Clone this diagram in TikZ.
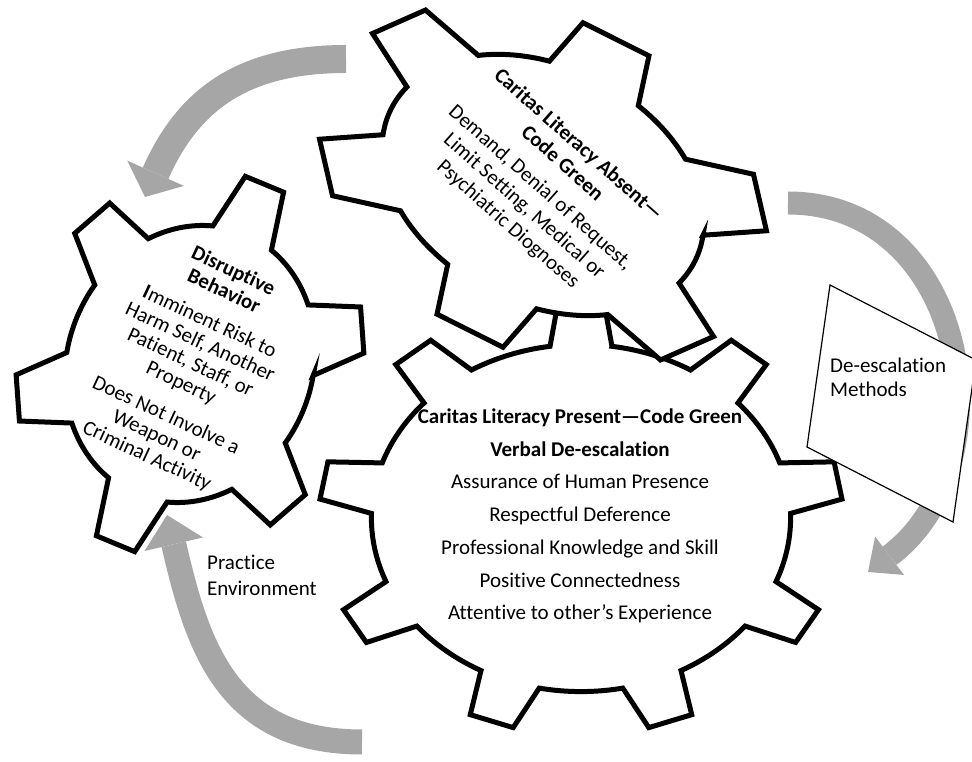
\documentclass[tikz,border=0pt]{standalone}
\usepackage{fontspec}
\setmainfont{Carlito}[Ligatures={TeX,NoCommon}]
\usetikzlibrary{arrows.meta}
\definecolor{arrowgray}{RGB}{166,166,166}

% gear outline in unit coordinates:
% #1 teeth, #2 angle of first tooth, #3 root radius, #4 tip half angle, #5 root half angle
\newcommand{\gearpath}[5]{%
  ({#2-#5}:#3)
  \foreach \k [evaluate=\k as \a using #2+(\k-1)*360/#1] in {1,...,#1}{
    -- ({\a-#4}:1) -- ({\a+#4}:1) -- ({\a+#5}:#3)
    arc[start angle={\a+#5}, end angle={\a+360/#1-#5}, radius=#3]
  } -- cycle}

\begin{document}
\begin{tikzpicture}[x=1pt, y=1pt,
  gear/.style={draw=black, fill=white, line width=5pt},
  gearlabel/.style={align=center, inner sep=0pt, font=\fontsize{21}{22.5}\selectfont},
  cycle arrow/.style={draw=arrowgray, line width=#1},
  methodbox/.style={draw=black, fill=white, line width=1.2pt}
]
\useasboundingbox (0,0) rectangle (972,761);

% Arrow ends (grey cycle arrows round the gears)
\coordinate (a1s) at (346,702);
\coordinate (a1e) at (145,564);
\coordinate (a2s) at (788,558);
\coordinate (a2e) at (868,189);
\coordinate (a3s) at (362,19);
\coordinate (a3e) at (167,246);

\draw[cycle arrow=28pt, -{Triangle[width=62pt, length=26pt, line width=0pt]}]
  (a1s) to[out=180, in=66, looseness=1.1] (a1e);
\draw[cycle arrow=23pt, -{Triangle[width=48pt, length=27pt, line width=0pt]}]
  (a2s) to[out=0, in=37, looseness=1.22] (a2e);
\draw[cycle arrow=25pt, -{Triangle[width=60pt, length=30pt, line width=0pt]}]
  (a3s) to[out=180, in=-77, looseness=1.15] (a3e);

% Gears (big one first, the top one overlaps it)
\filldraw[gear, shift={(581,243)}, xscale=262, yscale=217]
  \gearpath{9}{90}{0.8}{5}{8.5};
\filldraw[gear, shift={(543,576)}, rotate=-26.6, xscale=236, yscale=165]
  \gearpath{6}{30}{0.72}{9}{17};
\filldraw[gear, shift={(190,397)}, rotate=-22.5, xscale=170, yscale=196]
  \gearpath{6}{30}{0.72}{7}{15};

% Gear texts
\node[gearlabel, font=\fontsize{21}{32.7}\selectfont] (present) at (580,245)
  {\textbf{Caritas Literacy Present—Code Green}\\
   \textbf{Verbal De-escalation}\\
   Assurance of Human Presence\\
   Respectful Deference\\
   Professional Knowledge and Skill\\
   Positive Connectedness\\
   Attentive to other’s Experience};
\node[gearlabel, font=\fontsize{21}{24.5}\selectfont, rotate=-41.5] (absent) at (543,576)
  {\textbf{Caritas Literacy Absent—}\\
   \textbf{Code Green}\\[8pt]
   Demand, Denial of Request,\\
   Limit Setting, Medical or\\
   Psychiatric Diognoses};
\node[gearlabel, rotate=-25] (disrupt) at (190,397)
  {\textbf{Disruptive}\\
   \textbf{Behavior}\\[11pt]
   \textbf{I}mminent Risk to\\
   Harm Self, Another\\
   Patient, Staff, or\\
   Property\\[13pt]
   Does Not Involve a\\
   Weapon or\\
   Criminal Activity};

% Side labels (base anchor sits on the last line)
\draw[methodbox] (830,476) -- (976,401) -- (953,239) -- (807,314) -- cycle;
\node[gearlabel, align=left, anchor=base west, font=\fontsize{21}{24}\selectfont] (methods) at (830,364)
  {De-escalation\\Methods};
\node[gearlabel, align=left, anchor=base west, font=\fontsize{21}{25}\selectfont] (practice) at (207,166)
  {Practice\\Environment};
\end{tikzpicture}
\end{document}
